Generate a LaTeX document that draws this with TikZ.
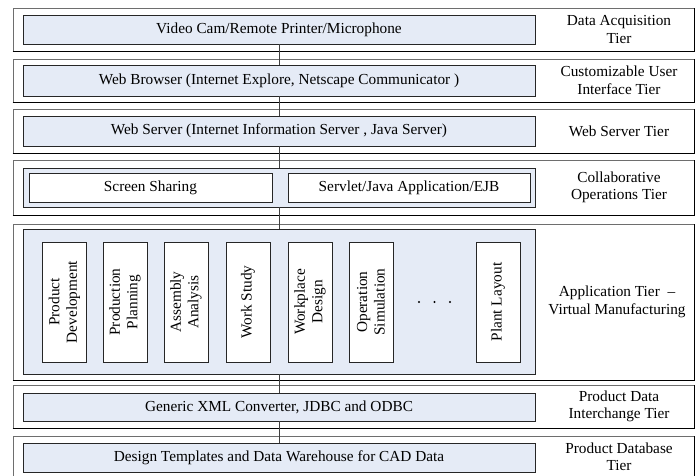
\documentclass[tikz,border=0pt]{standalone}
\usepackage{fontspec}
\setmainfont{Liberation Serif}
\definecolor{tierblue}{RGB}{229,235,246}
\definecolor{edgegray}{RGB}{110,110,110}
\begin{document}
\begin{tikzpicture}[x=1pt,y=-1pt,
  every node/.style={font=\fontsize{15.3}{17.5}\selectfont, inner sep=0pt, align=center},
  outerbox/.style={draw=edgegray, line width=0.9pt, fill=white, minimum width=681pt},
  innerbox/.style={draw=black!85, line width=0.8pt, fill=tierblue, minimum width=512pt},
  whitebox/.style={draw=black!85, line width=0.8pt, fill=white},
  lbl/.style={},
  conn/.style={draw=black!75, line width=0.9pt},
  dotmark/.style={circle, fill=black, minimum size=2.2pt}
]
\useasboundingbox (0,0) rectangle (697,476);
\clip (0,0) rectangle (697,476);
% outer tier boxes
\node[outerbox, minimum height=43pt] (t1) at (353.5,29.5) {};
\node[outerbox, minimum height=43pt] (t2) at (353.5,80.5) {};
\node[outerbox, minimum height=44pt] (t3) at (353.5,131) {};
\node[outerbox, minimum height=55pt] (t4) at (353.5,187.5) {};
\node[outerbox, minimum height=156pt] (t5) at (353.5,302) {};
\node[outerbox, minimum height=43pt] (t6) at (353.5,406.5) {};
\node[outerbox, minimum height=42pt] (t7) at (353.5,457) {};
\foreach \t in {t1,t2,t3,t4,t5,t6,t7}{
  \draw[black, line width=0.9pt] (\t.south west) -- (\t.south east) -- (\t.north east);
}
% inner boxes
\node[innerbox, minimum height=29pt] (i1) at (279,29.5) {Video Cam/Remote Printer/Microphone};
\node[innerbox, minimum height=31pt] (i2) at (279,80.5) {Web Browser (Internet Explore, Netscape Communicator )};
\node[innerbox, minimum height=30pt] (i3) at (279,131) {Web Server (Internet Information Server , Java Server)};
\node[innerbox, minimum height=39pt] (i4) at (279,187.5) {};
\node[innerbox, minimum height=145pt] (i5) at (279,301.5) {};
\node[innerbox, minimum height=28pt] (i6) at (279,407) {Generic XML Converter, JDBC and ODBC};
\node[innerbox, minimum height=29pt] (i7) at (279,457.5) {Design Templates and Data Warehouse for CAD Data};
% collaborative tier boxes
\node[whitebox, minimum width=243pt, minimum height=29pt] (ss) at (150.5,187.5) {Screen Sharing};
\node[whitebox, minimum width=242pt, minimum height=29pt] (sv) at (409,187.5) {Servlet/Java Application/EJB};
% application boxes
\node[whitebox, rotate=90, minimum width=120pt, minimum height=44pt] (a1) at (64.5,302) {Product\\Development};
\node[whitebox, rotate=90, minimum width=120pt, minimum height=44pt] (a2) at (125,302) {Production\\Planning};
\node[whitebox, rotate=90, minimum width=120pt, minimum height=44pt] (a3) at (186,302) {Assembly\\Analysis};
\node[whitebox, rotate=90, minimum width=120pt, minimum height=44pt] (a4) at (248,302) {Work Study};
\node[whitebox, rotate=90, minimum width=120pt, minimum height=44pt] (a5) at (310,302) {Workplace\\Design};
\node[whitebox, rotate=90, minimum width=120pt, minimum height=44pt] (a6) at (371,302) {Operation\\Simulation};
\node[whitebox, rotate=90, minimum width=120pt, minimum height=44pt] (a7) at (498,302) {Plant Layout};
\node[dotmark] (d1) at (419,302) {};
\node[dotmark] (d2) at (434.5,302) {};
\node[dotmark] (d3) at (450,302) {};
% labels
\node[lbl] (l1) at (619,29.5) {Data Acquisition\\Tier};
\node[lbl] (l2) at (619,80.5) {Customizable User\\Interface Tier};
\node[lbl] (l3) at (619,131) {Web Server Tier};
\node[lbl] (l4) at (619,187.5) {Collaborative\\Operations Tier};
\node[lbl] (l5) at (617,302) {Application Tier \ –\\Virtual Manufacturing};
\node[lbl] (l6) at (619,406.5) {Product Data\\Interchange Tier};
\node[lbl] (l7) at (619,457) {Product Database\\Tier};
% connectors
\draw[conn] (i1.south) -- (i2.north);
\draw[conn] (i2.south) -- (i3.north);
\draw[conn] (i3.south) -- (i4.north);
\draw[conn] (i4.south) -- (i5.north);
\draw[conn] (i5.south) -- (i6.north);
\draw[conn] (i6.south) -- (i7.north);
\end{tikzpicture}
\end{document}
